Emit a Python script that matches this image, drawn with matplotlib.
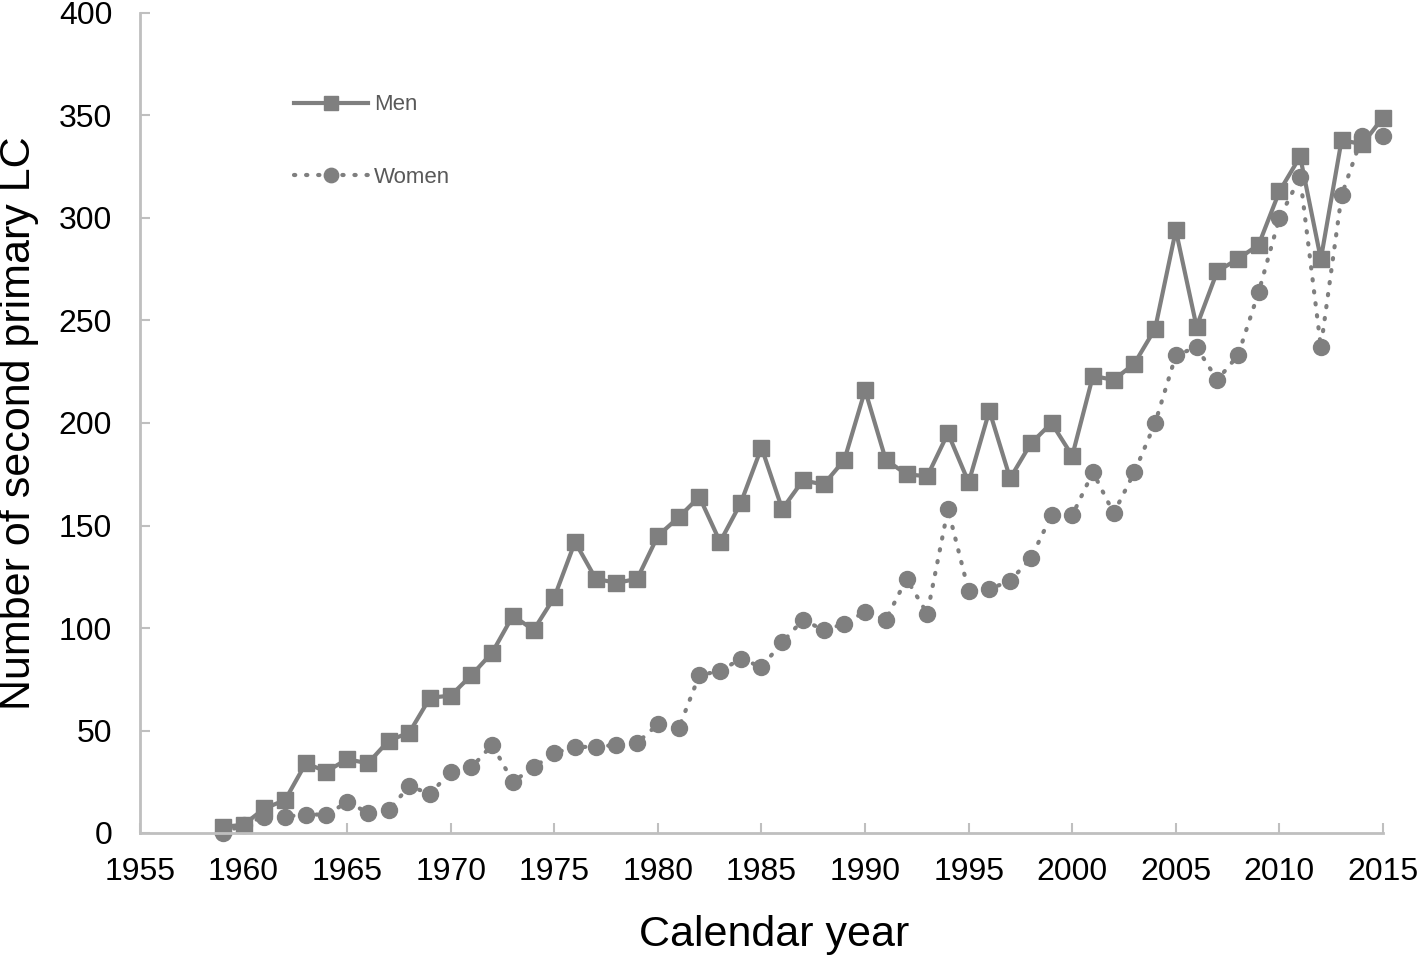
import numpy as np
import matplotlib
matplotlib.use('Agg')
import matplotlib.pyplot as plt

plt.rcParams['font.family'] = ['Liberation Sans', 'DejaVu Sans']

# data
years = list(range(1959, 2016))
men = [3, 4, 12, 16, 34, 30, 36, 34, 45, 49,
       66, 67, 77, 88, 106, 99, 115, 142, 124, 122,
       124, 145, 154, 164, 142, 161, 188, 158, 172, 170,
       182, 216, 182, 175, 174, 195, 171, 206, 173, 190,
       200, 184, 223, 221, 229, 246, 294, 247, 274, 280,
       287, 313, 330, 280, 338, 336, 349]
women = [0, 4, 8, 8, 9, 9, 15, 10, 11, 23,
         19, 30, 32, 43, 25, 32, 39, 42, 42, 43,
         44, 53, 51, 77, 79, 85, 81, 93, 104, 99,
         102, 108, 104, 124, 107, 158, 118, 119, 123, 134,
         155, 155, 176, 156, 176, 200, 233, 237, 221, 233,
         264, 300, 320, 237, 311, 340, 340]
xticks = list(range(1955, 2020, 5))
yticks = list(range(0, 450, 50))

grey = '#7f7f7f'

fig = plt.figure(figsize=(14.17, 9.58), dpi=100)
ax = fig.add_axes([140/1417, 125/958, 1243/1417, 820/958])

ax.plot(years, men, color=grey, lw=3, marker='s', ms=11.5, label='Men', clip_on=False)
ax.plot(years, women, color=grey, lw=3, marker='o', ms=11.5,
        linestyle=(0, (0.3, 2.6)), dash_capstyle='round', label='Women', clip_on=False)

ax.set_xlim(1955, 2015)
ax.set_ylim(0, 400)
ax.set_xticks(xticks)
ax.set_yticks(yticks)
ax.tick_params(direction='in', length=7, width=1.5, color='#bfbfbf', labelsize=23)
ax.tick_params(axis='x', pad=17)
ax.tick_params(axis='y', pad=20)
for s in ['top', 'right']:
    ax.spines[s].set_visible(False)
for s in ['left', 'bottom']:
    ax.spines[s].set_color('#bfbfbf')
    ax.spines[s].set_linewidth(2)

ax.set_xlabel('Calendar year', fontsize=31)
ax.xaxis.set_label_coords(0.51, -0.1)
ax.set_ylabel('Number of second primary LC', fontsize=31, labelpad=14)

leg = ax.legend(loc='upper left', bbox_to_anchor=(0.108, 0.925), frameon=False,
                fontsize=16, labelspacing=2.3, handlelength=3.3, handletextpad=0.3,
                markerscale=0.9)
for t in leg.get_texts():
    t.set_color('#595959')

fig.savefig('out.png', dpi=100)
